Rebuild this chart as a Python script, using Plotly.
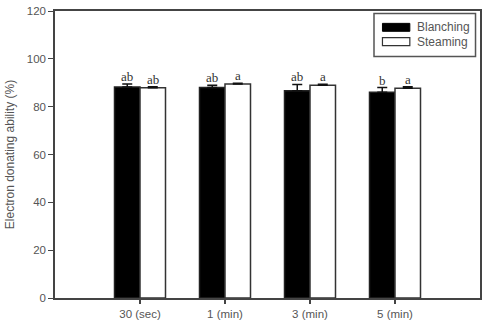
import plotly.graph_objects as go

categories = ["30 (sec)", "1 (min)", "3 (min)", "5 (min)"]
blanching = [88.2, 88.0, 86.7, 86.0]
blanching_err = [1.3, 1.0, 2.6, 2.0]
steaming = [87.9, 89.5, 89.0, 87.7]
steaming_err = [0.4, 0.3, 0.4, 0.6]
blanching_letters = ["ab", "ab", "ab", "b"]
steaming_letters = ["ab", "a", "a", "a"]
y_ticks = [0, 20, 40, 60, 80, 100, 120]

axis_col = "#444444"
text_col = "#555555"

fig = go.Figure()
fig.add_trace(go.Bar(
    name="Blanching", x=categories, y=blanching,
    marker=dict(color="black", line=dict(color="#222222", width=1.5)),
    error_y=dict(type="data", array=blanching_err, arrayminus=[0]*4, symmetric=False,
                 color="#111111", thickness=1.5, width=5),
))
fig.add_trace(go.Bar(
    name="Steaming", x=categories, y=steaming,
    marker=dict(color="white", line=dict(color="#333333", width=1.5)),
    error_y=dict(type="data", array=steaming_err, arrayminus=[0]*4, symmetric=False,
                 color="#111111", thickness=1.5, width=5),
))

annotations = []
for i, c in enumerate(categories):
    annotations.append(dict(x=c, y=blanching[i] + blanching_err[i], xref="x", yref="y",
                            text=blanching_letters[i], showarrow=False, yanchor="bottom",
                            xshift=-12.8, yshift=-2,
                            font=dict(family="Liberation Serif", size=13, color="#333333")))
    annotations.append(dict(x=c, y=steaming[i] + steaming_err[i], xref="x", yref="y",
                            text=steaming_letters[i], showarrow=False, yanchor="bottom",
                            xshift=12.8, yshift=-2,
                            font=dict(family="Liberation Serif", size=13, color="#333333")))

# custom legend
lx0, lx1, ly0, ly1 = 375.5, 477.5, 10.5, 54
W, H, L, T = 487, 330, 55, 8
pw, ph = W - L - 5, H - T - 32
def px(x):
    return (x - L) / pw
def py(y):
    return 1 - (y - T) / ph

shapes = [
    dict(type="rect", xref="paper", yref="paper", x0=px(lx0), x1=px(lx1), y0=py(ly1), y1=py(ly0),
         line=dict(color="#555555", width=1.5), fillcolor="white", layer="above"),
    dict(type="rect", xref="paper", yref="paper", x0=px(384), x1=px(411.5), y0=py(28.5), y1=py(20.5),
         line=dict(color="black", width=1), fillcolor="black", layer="above"),
    dict(type="rect", xref="paper", yref="paper", x0=px(384), x1=px(411.5), y0=py(43), y1=py(35),
         line=dict(color="#333333", width=1.2), fillcolor="white", layer="above"),
]
for name, yy in [("Blanching", 24.5), ("Steaming", 39)]:
    annotations.append(dict(x=px(416.5), y=py(yy), xref="paper", yref="paper", text=name,
                            showarrow=False, xanchor="left", yanchor="middle",
                            font=dict(family="Liberation Sans", size=12, color=text_col)))

fig.update_layout(
    width=W, height=H,
    margin=dict(l=L, r=5, t=T, b=32),
    paper_bgcolor="white", plot_bgcolor="white",
    barmode="group", bargap=0.4, bargroupgap=0,
    showlegend=False,
    annotations=annotations, shapes=shapes,
    font=dict(family="Liberation Sans", size=11, color=text_col),
)
fig.update_xaxes(
    type="category", range=[-1, 4],
    showline=True, linecolor=axis_col, linewidth=1.5, mirror=True,
    ticks="outside", ticklen=4, tickcolor=axis_col, tickwidth=1.5,
    showgrid=False, tickfont=dict(size=11.5, color=text_col),
)
fig.update_yaxes(
    range=[0, 120], tickvals=y_ticks,
    showline=True, linecolor=axis_col, linewidth=1.5, mirror=True,
    ticks="outside", ticklen=5, tickcolor=axis_col, tickwidth=1.2,
    showgrid=False, zeroline=False, tickfont=dict(size=11.5, color=text_col),
    title=dict(text="Electron donating ability (%)", font=dict(size=12, color=text_col), standoff=10),
)

fig.write_html("out.html")
